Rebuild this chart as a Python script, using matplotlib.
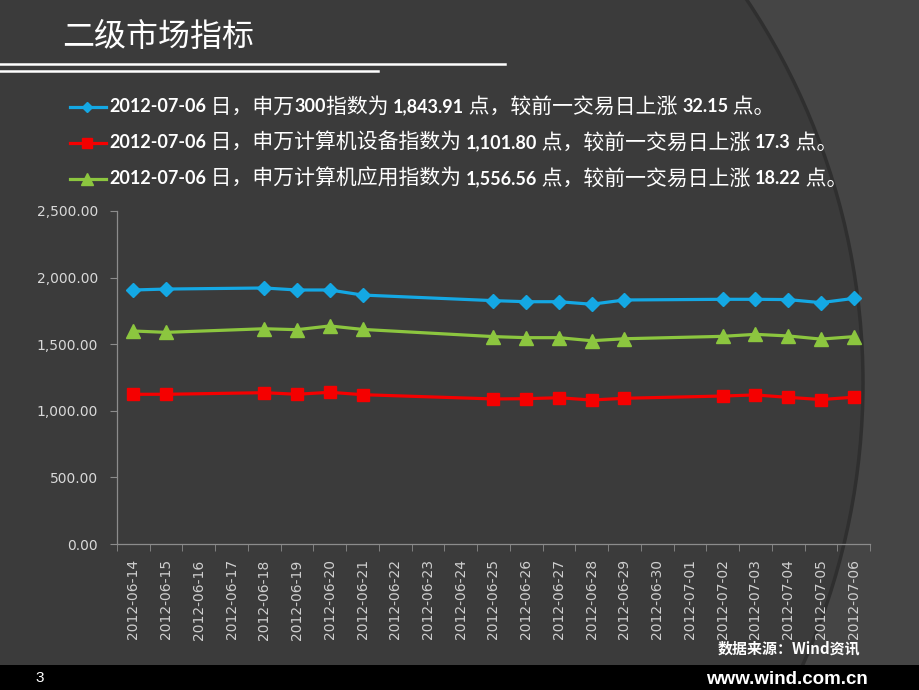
import matplotlib
matplotlib.use('Agg')
import matplotlib.pyplot as plt
from matplotlib.patches import Circle, Rectangle
from matplotlib.lines import Line2D
from matplotlib.transforms import IdentityTransform
from matplotlib.ticker import FuncFormatter
import numpy as np

# ---------------- data ----------------
dates = ['2012-06-14', '2012-06-15', '2012-06-16', '2012-06-17', '2012-06-18',
         '2012-06-19', '2012-06-20', '2012-06-21', '2012-06-22', '2012-06-23',
         '2012-06-24', '2012-06-25', '2012-06-26', '2012-06-27', '2012-06-28',
         '2012-06-29', '2012-06-30', '2012-07-01', '2012-07-02', '2012-07-03',
         '2012-07-04', '2012-07-05', '2012-07-06']
trade_dates = ['2012-06-14', '2012-06-15', '2012-06-18', '2012-06-19', '2012-06-20',
               '2012-06-21', '2012-06-25', '2012-06-26', '2012-06-27', '2012-06-28',
               '2012-06-29', '2012-07-02', '2012-07-03', '2012-07-04', '2012-07-05',
               '2012-07-06']
sw300 = [1907, 1914, 1922, 1907, 1907, 1869, 1827, 1819, 1819, 1800, 1832,
         1837, 1837, 1835, 1811.76, 1843.91]
sw_equip = [1124, 1124, 1136, 1124, 1139, 1121, 1089, 1091, 1098, 1081, 1094,
            1111, 1119, 1101, 1084.50, 1101.80]
sw_app = [1599, 1589, 1616, 1609, 1637, 1611, 1557, 1549, 1549, 1526, 1541,
          1559, 1574, 1562, 1538.34, 1556.56]
series_names = ['申万300', '申万计算机设备', '申万计算机应用']
y_ticks = [0, 500, 1000, 1500, 2000, 2500]

# ---------------- figure ----------------
W, H = 920, 690
fig = plt.figure(figsize=(W / 100, H / 100), dpi=100)
fig.patch.set_facecolor('#454545')

# background arc
fig.add_artist(Circle((1.73, 3.07), 6.9, transform=fig.dpi_scale_trans,
                      facecolor='#3b3b3b', edgecolor='#2f2f2f', lw=2.5, zorder=0))
# bottom black band
fig.add_artist(Rectangle((0, 0), 1, 25 / H, transform=fig.transFigure,
                         facecolor='black', edgecolor='none', zorder=1))

# title and rules
fig.text(62 / W, 1 - 37 / H, '二级市场指标', color='white', fontsize=23,
         family=['Noto Sans CJK SC', 'DejaVu Sans'], va='center', ha='left')
fig.add_artist(Line2D([0, 505 / W], [1 - 64 / H] * 2, transform=fig.transFigure,
                      color='white', lw=1.8))
fig.add_artist(Line2D([0, 378 / W], [1 - 71 / H] * 2, transform=fig.transFigure,
                      color='white', lw=1.8))

# ---------------- axes ----------------
ax = fig.add_axes([117 / W, 1 - 544 / H, 753 / W, 333 / H])
ax.set_facecolor('none')
xs = [dates.index(d) for d in trade_dates]

styles = [
    dict(color='#14a8e4', marker='D', markersize=7, legsize=5.5),
    dict(color='#f50000', marker='s', markersize=8.5, legsize=7),
    dict(color='#8cc63f', marker='^', markersize=9.5, legsize=8),
]
for vals, st in zip([sw300, sw_equip, sw_app], styles):
    ax.plot(xs, vals, lw=2.3, color=st['color'], marker=st['marker'],
            markersize=st['markersize'], markerfacecolor=st['color'],
            markeredgecolor=st['color'], zorder=3)

ax.set_xlim(-0.5, len(dates) - 0.5)
ax.set_ylim(0, 2500)
ax.set_yticks(y_ticks)
ax.yaxis.set_major_formatter(FuncFormatter(lambda v, p: f'{v:,.2f}'))
ax.set_xticks(range(len(dates)))
ax.set_xticklabels(dates, rotation=90, va='top', ha='center')
ax.set_xticks(np.arange(-0.5, len(dates), 1), minor=True)
ax.tick_params(axis='x', which='major', length=0, pad=11, labelsize=10,
               labelcolor='#cfcfcf')
ax.tick_params(axis='x', which='minor', length=5, color='#8c8c8c')
ax.tick_params(axis='y', length=5, color='#8c8c8c', pad=8.5, labelsize=10,
               labelcolor='#d9d9d9')
for s in ['top', 'right']:
    ax.spines[s].set_visible(False)
for s in ['left', 'bottom']:
    ax.spines[s].set_color('#8c8c8c')
    ax.spines[s].set_linewidth(0.9)

# ---------------- legend lines ----------------
fig.canvas.draw()
renderer = fig.canvas.get_renderer()
cjk = ['Noto Sans CJK SC', 'DejaVu Sans']
num = ['Lato', 'DejaVu Sans']


def draw_segments(x, y, segs):
    for text, bold in segs:
        t = fig.text(x, H - y, text, transform=IdentityTransform(), color='white',
                     fontsize=13.0 if bold else 15.0, family=num if bold else cjk,
                     weight='bold' if bold else 'normal', va='center', ha='left')
        bb = t.get_window_extent(renderer=renderer)
        x = bb.x1


def fmt_chg(v):
    s = f'{v:.2f}'
    return s.rstrip('0').rstrip('.')


legend_y = [107, 143, 179]
for name, vals, st, ly in zip(series_names, [sw300, sw_equip, sw_app], styles, legend_y):
    fig.add_artist(Line2D([70, 87, 106], [H - ly] * 3, transform=IdentityTransform(),
                          color=st['color'], lw=2.3, marker=st['marker'],
                          markersize=st['legsize'], markevery=[1],
                          markerfacecolor=st['color'], markeredgecolor=st['color']))
    last, prev = vals[-1], vals[-2]
    m = name.split('300')
    if len(m) == 2:
        name_segs = [(' 日，' + m[0], False), ('300', True), (m[1] + '指数为 ', False)]
    else:
        name_segs = [(' 日，' + name + '指数为 ', False)]
    segs = ([(trade_dates[-1], True)] + name_segs +
            [(f'{last:,.2f}', True), (' 点，较前一交易日上涨 ', False),
             (fmt_chg(last - prev), True), (' 点。', False)])
    draw_segments(109, ly, segs)

# ---------------- footer ----------------
fig.text(860 / W, 1 - 648 / H, '数据来源：Wind资讯', color='white', fontsize=10.8,
         weight='bold', family=['Noto Sans CJK SC', 'DejaVu Sans'],
         ha='right', va='center')
fig.text(868 / W, 1 - 679 / H, 'www.wind.com.cn', color='white', fontsize=13.5,
         weight='bold', family=['Liberation Sans', 'DejaVu Sans'],
         ha='right', va='center')
fig.text(40 / W, 1 - 678 / H, '3', color='white', fontsize=11,
         family=['Liberation Sans', 'DejaVu Sans'], ha='center', va='center')

fig.savefig('out.png', dpi=100, facecolor=fig.get_facecolor())
